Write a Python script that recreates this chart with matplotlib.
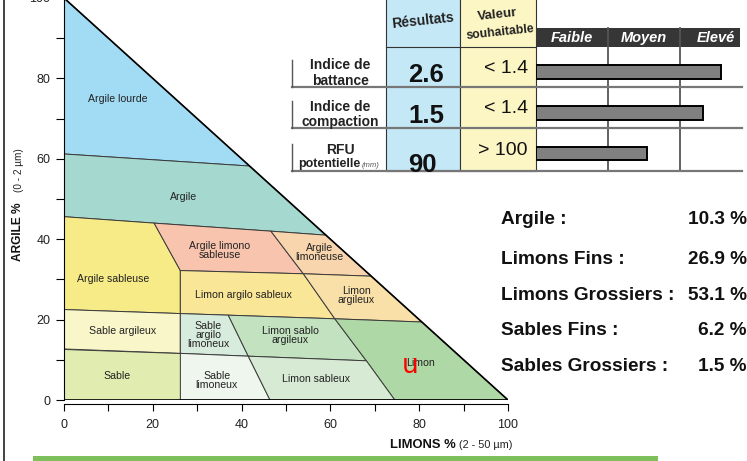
import matplotlib
matplotlib.use('Agg')
import matplotlib.pyplot as plt
from matplotlib.patches import Polygon, Rectangle

plt.rcParams['font.family'] = ['Liberation Sans', 'DejaVu Sans']

W, H = 747, 461

# --- soil texture triangle (x = limons %, y = argile %) ---
zone_names = ['Argile lourde', 'Argile', 'Argile sableuse', 'Argile limono\nsableuse',
              'Argile\nlimoneuse', 'Limon argilo sableux', 'Limon\nargileux', 'Sable argileux',
              'Sable\nargilo\nlimoneux', 'Limon sablo\nargileux', 'Limon', 'Sable',
              'Sable\nlimoneux', 'Limon sableux']
zone_colors = ['#a2dcf4', '#a5d9cf', '#f7eb87', '#f8c4ae', '#f9d5ae', '#fae697', '#f9dfa8',
               '#f9f6ca', '#d8ecdd', '#c2e2c0', '#aed8a5', '#e1ecb1', '#eef6ed', '#d7ebd4']
zone_outlines = [
    [(0, 100), (0, 61.2), (41.8, 58.2)],
    [(0, 61.2), (0, 45.6), (20.3, 44.0), (46.6, 42.0), (59.0, 41.0), (41.8, 58.2)],
    [(0, 45.6), (0, 22.5), (26.2, 21.5), (26.2, 32.2), (20.3, 44.0)],
    [(20.3, 44.0), (26.2, 32.2), (53.9, 31.4), (46.6, 42.0)],
    [(46.6, 42.0), (53.9, 31.4), (69.2, 30.8), (59.0, 41.0)],
    [(26.2, 32.2), (26.2, 21.5), (37.0, 21.1), (61.0, 20.2), (53.9, 31.4)],
    [(53.9, 31.4), (61.0, 20.2), (80.6, 19.4), (69.2, 30.8)],
    [(0, 22.5), (0, 12.7), (26.2, 11.6), (26.2, 21.5)],
    [(26.2, 21.5), (26.2, 11.6), (41.5, 10.9), (37.0, 21.1)],
    [(37.0, 21.1), (41.5, 10.9), (68.1, 9.75), (61.0, 20.2)],
    [(61.0, 20.2), (68.1, 9.75), (74.5, 0), (100, 0), (80.6, 19.4)],
    [(0, 12.7), (0, 0), (26.2, 0), (26.2, 11.6)],
    [(26.2, 11.6), (26.2, 0), (46.4, 0), (41.5, 10.9)],
    [(41.5, 10.9), (46.4, 0), (74.5, 0), (68.1, 9.75)],
]
zone_label_xy = [(12.2, 74.8), (26.9, 50.5), (11.1, 30.0), (35.1, 37.2), (57.5, 36.6),
                 (40.5, 26.2), (65.8, 25.9), (13.2, 17.1), (32.5, 16.1), (50.9, 16.1),
                 (80.4, 9.3), (11.9, 5.9), (34.4, 4.9), (56.8, 5.1)]

# --- sample granulometry ---
fractions = ['Argile', 'Limons Fins', 'Limons Grossiers', 'Sables Fins', 'Sables Grossiers']
fraction_pct = [10.3, 26.9, 53.1, 6.2, 1.5]

# --- indices table ---
indice_labels = ['Indice de\nbattance', 'Indice de\ncompaction', 'RFU\npotentielle']
indice_results = ['2.6', '1.5', '90']
indice_targets = ['< 1.4', '< 1.4', '> 100']
indice_levels = [2.58, 2.33, 1.55]   # on the Faible / Moyen / Elevé scale
level_names = ['Faible', 'Moyen', 'Elevé']


def px_rect(x0, y0, x1, y1):
    return [x0 / W, 1 - y1 / H, (x1 - x0) / W, (y1 - y0) / H]


fig = plt.figure(figsize=(W / 100, H / 100), dpi=100)

# overlay in pixel coordinates for the table / free text
ov = fig.add_axes([0, 0, 1, 1])
ov.set_xlim(0, W)
ov.set_ylim(H, 0)
ov.axis('off')

# table columns
ov.add_patch(Rectangle((386, -5), 74.3, 175.7, fc='#c5e8f7', ec='#333333', lw=0.8))
ov.add_patch(Rectangle((460.3, -5), 75.4, 175.7, fc='#fcf6c4', ec='#333333', lw=0.8))
ov.plot([386, 535.7], [46.7, 46.7], color='#333333', lw=0.8)

col_x0, col_w = 535.7, 72.0
ov.add_patch(Rectangle((col_x0, 28), 204.3, 18.7, fc='#363636', ec='none'))
for k, name in enumerate(level_names):
    ov.text(col_x0 + col_w * (k + 0.5), 38.3, name, color='white', fontsize=10.5,
            fontweight='bold', fontstyle='italic', ha='center', va='center')
for k in (1, 2):
    ov.plot([col_x0 + col_w * k] * 2, [28, 170.7], color='#555555', lw=1.3)

ov.text(423, 21, 'Résultats', fontsize=10, fontweight='bold', color='#222222',
        ha='center', va='center', rotation=6, rotation_mode='anchor')
ov.text(497, 15, 'Valeur', fontsize=9.5, fontweight='bold', color='#222222',
        ha='center', va='center', rotation=6, rotation_mode='anchor')
ov.text(500, 32, 'souhaitable', fontsize=8.8, fontweight='bold', color='#222222',
        ha='center', va='center', rotation=6, rotation_mode='anchor')

row_sep = [86.7, 128.3, 170.7]
label_line_y = [(65, 80.7), (106.7, 121.5), (150, 164)]
res_y = [82, 123, 171.5]
target_y = [68.3, 108.3, 150]
for i in range(3):
    ov.plot([292, 741.7], [row_sep[i]] * 2, color='#777777', lw=1.6)
    ov.plot([292.3, 292.3], [row_sep[i] - 27, row_sep[i]], color='#555555', lw=1)
    ov.text(408, res_y[i], indice_results[i], fontsize=18.5, fontweight='bold',
            color='#111111', ha='left', va='baseline')
    ov.text(528, target_y[i], indice_targets[i], fontsize=14, color='#111111',
            ha='right', va='center')
    first, second = indice_labels[i].split('\n')
    ov.text(340, label_line_y[i][0], first, fontsize=10, fontweight='bold',
            color='#222222', ha='center', va='center')
    if i < 2:
        ov.text(340, label_line_y[i][1], second, fontsize=10, fontweight='bold',
                color='#222222', ha='center', va='center')
    else:
        ov.text(360, label_line_y[i][1], second, fontsize=9, fontweight='bold',
                color='#222222', ha='right', va='center')
        ov.text(362, label_line_y[i][1] + 1, '(mm)', fontsize=5.5, fontstyle='italic',
                color='#555555', ha='left', va='center')

# bars on the Faible / Moyen / Elevé scale
bx = fig.add_axes(px_rect(col_x0, 47, 741.7, 171))
bx.set_facecolor('none')
bx.barh(range(3), indice_levels, height=0.34, color='#808080', edgecolor='black', lw=1.4)
bx.set_xlim(0, (741.7 - col_x0) / col_w)
bx.set_ylim(2.43, -0.613)
bx.axis('off')

# granulometry block
lab_y = [219, 259, 295, 330, 366]
for i in range(len(fractions)):
    ov.text(501, lab_y[i], fractions[i] + ' :', fontsize=13.7, fontweight='bold',
            color='#111111', ha='left', va='center')
    ov.text(747, lab_y[i], f'{fraction_pct[i]:.1f} %', fontsize=13.7, fontweight='bold',
            color='#111111', ha='right', va='center')

# axis titles
ov.text(18, 232, 'ARGILE %', fontsize=8.6, fontweight='bold', color='#111111',
        rotation=90, ha='center', va='center')
ov.text(18.5, 170, '(0 - 2 µm)', fontsize=7.2, color='#222222',
        rotation=90, ha='center', va='center')
ov.text(390, 448, 'LIMONS %', fontsize=9.4, fontweight='bold', color='#111111',
        ha='left', va='baseline')
ov.text(459, 448, '(2 - 50 µm)', fontsize=7.8, color='#222222',
        ha='left', va='baseline')

# frame line + green footer
ov.plot([3.5, 3.5], [0, H], color='#222222', lw=1.2)
ov.add_patch(Rectangle((33, 455.5), 625, 6, fc='#7dbf5b', ec='none'))

# triangle
ax = fig.add_axes(px_rect(64, -2, 508, 400))
ax.set_facecolor('none')
for verts, col in zip(zone_outlines, zone_colors):
    ax.add_patch(Polygon(verts, closed=True, fc=col, ec='#3a3a3a', lw=0.7))
for (lx, ly), name in zip(zone_label_xy, zone_names):
    ax.text(lx, ly, name, fontsize=7.6, color='#222222', ha='center', va='center',
            linespacing=0.85)
ax.plot([0, 100], [100, 0], color='black', lw=1.2)
ax.plot([0, 100], [0, 0], color='black', lw=1.2)
ax.plot([0, 0], [0, 100], color='black', lw=1.2)

limons = fraction_pct[1] + fraction_pct[2]
ax.annotate('u', xy=(limons, fraction_pct[0]), xytext=(-6.3, -10.2),
            textcoords='offset points', color='red', fontsize=19,
            family='DejaVu Sans', ha='center', va='baseline')

ax.set_xlim(0, 100)
ax.set_ylim(0, 100)
ax.spines['top'].set_visible(False)
ax.spines['right'].set_visible(False)
ax.spines['bottom'].set_position(('outward', 3))
ax.set_xticks(range(0, 101, 20))
ax.set_xticks(range(10, 100, 20), minor=True)
ax.set_yticks(range(0, 101, 20))
ax.set_yticks(range(10, 100, 20), minor=True)
ax.tick_params(axis='x', which='both', direction='out', length=5.3, width=0.8, pad=5.5,
               labelsize=9, labelcolor='#222222')
ax.tick_params(axis='y', which='both', direction='out', length=5.8, width=0.8, pad=4,
               labelsize=9, labelcolor='#222222')

fig.savefig('out.png', dpi=100)
